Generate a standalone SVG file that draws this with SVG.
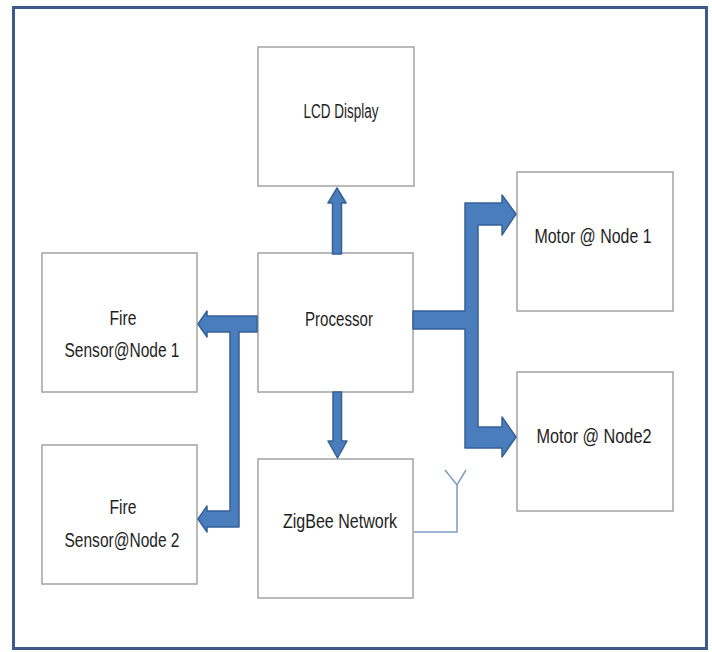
<svg xmlns="http://www.w3.org/2000/svg" width="712" height="652" viewBox="0 0 712 652">
  <style>
    .box { fill: #ffffff; stroke: #a3a3a3; stroke-width: 1.5; }
    .lbl { font-family: "Liberation Sans", Arial, sans-serif; font-size: 20px; fill: #1e1e1e; text-anchor: middle; }
    .arrow { fill: #4a7dbb; stroke: #36609a; stroke-width: 1.5; stroke-linejoin: round; }
    .wire { fill: none; stroke: #7c9cc4; stroke-width: 1.5; }
  </style>

  <rect x="0" y="0" width="712" height="652" fill="#ffffff"/>
  <!-- outer frame -->
  <rect x="13.5" y="7.5" width="693" height="641" fill="#ffffff" stroke="#3d5b8a" stroke-width="3"/>

  <g id="lcd-display">
    <rect class="box" x="258" y="47" width="156" height="139"/>
    <text class="lbl" x="341" y="118" textLength="75" lengthAdjust="spacingAndGlyphs">LCD Display</text>
  </g>

  <g id="processor">
    <rect class="box" x="258" y="253" width="155" height="139"/>
    <text class="lbl" x="339" y="326" textLength="68" lengthAdjust="spacingAndGlyphs">Processor</text>
  </g>

  <g id="zigbee-network">
    <rect class="box" x="258" y="459" width="155" height="139"/>
    <text class="lbl" x="340" y="528" textLength="114" lengthAdjust="spacingAndGlyphs">ZigBee Network</text>
  </g>

  <g id="fire-sensor-1">
    <rect class="box" x="42" y="253" width="155" height="139"/>
    <text class="lbl" x="123" y="325" textLength="27" lengthAdjust="spacingAndGlyphs">Fire</text>
    <text class="lbl" x="122" y="357" textLength="115" lengthAdjust="spacingAndGlyphs">Sensor@Node 1</text>
  </g>

  <g id="fire-sensor-2">
    <rect class="box" x="42" y="445" width="155" height="139"/>
    <text class="lbl" x="123" y="514" textLength="27" lengthAdjust="spacingAndGlyphs">Fire</text>
    <text class="lbl" x="122" y="547" textLength="115" lengthAdjust="spacingAndGlyphs">Sensor@Node 2</text>
  </g>

  <g id="motor-1">
    <rect class="box" x="517" y="172" width="156" height="139"/>
    <text class="lbl" x="593" y="243" textLength="117" lengthAdjust="spacingAndGlyphs">Motor @ Node 1</text>
  </g>

  <g id="motor-2">
    <rect class="box" x="517" y="372" width="156" height="139"/>
    <text class="lbl" x="594" y="443" textLength="115" lengthAdjust="spacingAndGlyphs">Motor @ Node2</text>
  </g>

  <g id="connectors">
    <!-- processor to LCD -->
    <path class="arrow" d="M332.5,254 L341.5,254 L341.5,203 L346,203 L337,188 L328,203 L332.5,203 Z"/>
    <!-- processor to ZigBee -->
    <path class="arrow" d="M333,392 L341.5,392 L341.5,441 L347,441 L337.5,458 L328,441 L333,441 Z"/>
    <!-- processor to both motors -->
    <path class="arrow" d="M413,311 L465,311 L465,203 L502,203 L502,195 L516,214 L502,235 L502,225 L478,225 L478,427 L502,427 L502,417 L516,437 L502,457 L502,448 L465,448 L465,329 L413,329 Z"/>
    <!-- processor to both fire sensors -->
    <path class="arrow" d="M257,316 L207,316 L207,311 L198,324 L207,337 L207,332 L230,332 L230,511 L207,511 L207,506 L198,519 L207,532 L207,527 L239,527 L239,332 L257,332 Z"/>
    <!-- ZigBee antenna -->
    <polyline class="wire" points="414,532 457,532 457,485"/>
    <polyline class="wire" points="445,470 457,485 466,470"/>
  </g>
</svg>
